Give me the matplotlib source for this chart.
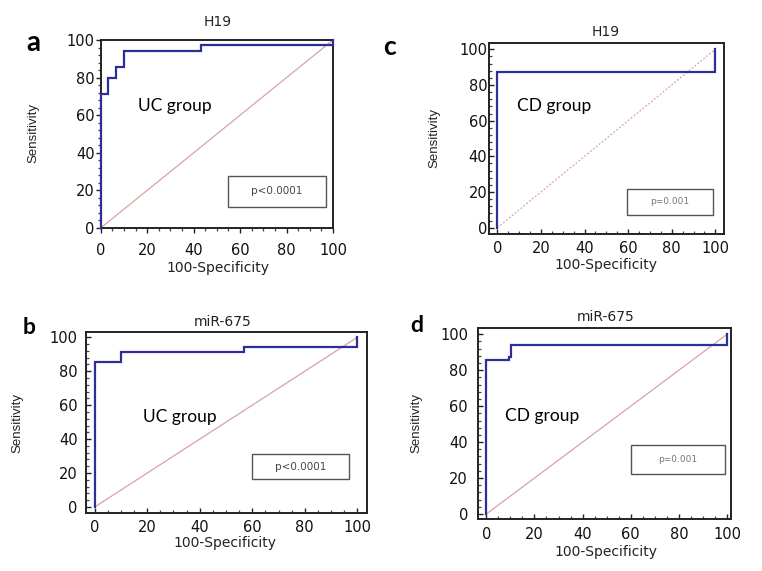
import matplotlib
matplotlib.use("Agg")
import matplotlib.pyplot as plt
from matplotlib.ticker import MultipleLocator
from matplotlib.patches import Rectangle

# ---------------- data (ROC operating points, %) ----------------
fpr_a = [0, 0, 3.3, 6.7, 10, 43.3, 100]
tpr_a = [0, 71.4, 80.0, 85.7, 94.3, 97.1, 100]

fpr_b = [0, 0, 10, 56.7, 100]
tpr_b = [0, 85.7, 91.4, 94.3, 100]

fpr_c = [0, 0, 100]
tpr_c = [0, 87.5, 100]

fpr_d = [0, 0, 9.4, 10.2, 100]
tpr_d = [0, 85.7, 87.1, 94.3, 100]

titles = {"a": "H19", "b": "miR-675", "c": "H19", "d": "miR-675"}
groups = {"a": "UC group", "b": "UC group", "c": "CD group", "d": "CD group"}
pvals = {"a": "p<0.0001", "b": "p<0.0001", "c": "p=0.001", "d": "p=0.001"}
ticks = [0, 20, 40, 60, 80, 100]

W, H = 762, 571
fig = plt.figure(figsize=(W / 100, H / 100), dpi=100)
fig.patch.set_facecolor("white")

SANS = "Liberation Sans"
WIDE = "DejaVu Sans"
CAL = "Lato"
BLUE = "#2c2f98"
PINK = "#d9a3a3"

def fx(x):
    return x / W

def fy(y):
    return 1 - y / H

# layout in pixels: frame (left, right, top, bottom), data anchors (x0px, x100px, y0px, y100px)
layout = {
    "a": dict(frame=(100.7, 333.0, 40.0, 228.0), anchor=(100.7, 333.0, 228.0, 40.0),
              tickdir="out", xpad=7.5, ypad=1.0),
    "c": dict(frame=(489.3, 723.7, 42.7, 234.0), anchor=(497.3, 715.3, 227.7, 49.3),
              tickdir="in", xpad=5.0, ypad=1.5),
    "b": dict(frame=(86.0, 366.7, 331.7, 513.0), anchor=(94.7, 357.3, 507.0, 337.3),
              tickdir="in", xpad=5.0, ypad=6.0),
    "d": dict(frame=(477.7, 731.0, 328.3, 519.3), anchor=(486.3, 727.0, 514.0, 334.3),
              tickdir="in", xpad=5.5, ypad=7.0),
}
data = {"a": (fpr_a, tpr_a), "b": (fpr_b, tpr_b), "c": (fpr_c, tpr_c), "d": (fpr_d, tpr_d)}

# annotation placements (pixels)
panel_lbl = {"a": (33, 43, 20), "c": (389, 47, 19), "b": (29, 327, 16.5), "d": (417, 326, 16.5)}
title_pos = {"a": (218, 22), "c": (606, 32), "b": (223, 322), "d": (606, 317)}
group_pos = {"a": (138, 106), "c": (517, 106), "b": (143, 417), "d": (505, 416)}
pbox = {"a": (228, 326, 176, 207), "c": (627, 713, 189, 215),
        "b": (252, 349, 454, 479), "d": (631, 725, 445, 474)}
ylab_pos = {"a": (33, 133), "c": (434, 138), "b": (17, 423), "d": (416, 423)}
xlab_pos = {"a": (218, 268), "c": (606, 265), "b": (225, 543), "d": (606, 552)}

for key in ["a", "b", "c", "d"]:
    L = layout[key]
    l, r, t, b = L["frame"]
    x0, x100, y0, y100 = L["anchor"]
    ax = fig.add_axes([fx(l), fy(b), (r - l) / W, (b - t) / H])
    sx = (x100 - x0) / 100.0
    sy = (y0 - y100) / 100.0
    ax.set_xlim(-(x0 - l) / sx, 100 + (r - x100) / sx)
    ax.set_ylim(-(b - y0) / sy, 100 + (y100 - t) / sy)

    fpr, tpr = data[key]
    ls = (0, (1.5, 1.5)) if key == "c" else "-"
    ax.plot([0, 100], [0, 100], color=PINK, lw=0.9, ls=ls, zorder=2)
    ax.plot(fpr, tpr, drawstyle="steps-post", color=BLUE, lw=1.6, zorder=3,
            solid_joinstyle="miter", clip_on=False)

    ax.set_xticks(ticks)
    ax.set_yticks(ticks)
    ax.xaxis.set_minor_locator(MultipleLocator(5))
    ax.yaxis.set_minor_locator(MultipleLocator(4))
    ax.tick_params(which="major", direction=L["tickdir"], length=3.5, width=1.0,
                   labelsize=10.5, colors="#222222")
    ax.tick_params(which="minor", direction=L["tickdir"], length=2.2, width=0.9, colors="#444444")
    ax.tick_params(axis="x", which="major", pad=L["xpad"])
    ax.tick_params(axis="y", which="major", pad=L["ypad"])
    for lab in ax.get_xticklabels() + ax.get_yticklabels():
        lab.set_fontfamily(WIDE)
        lab.set_color("#111111")
    for sp in ax.spines.values():
        sp.set_linewidth(1.4)
        sp.set_color("#222222")

    # texts
    lx, ly, ls_ = panel_lbl[key]
    fig.text(fx(lx), fy(ly), key, family=CAL, weight="bold", fontsize=ls_,
             ha="center", va="center", color="black")
    tx, ty = title_pos[key]
    fig.text(fx(tx), fy(ty), titles[key], family=WIDE, fontsize=10, ha="center", va="center",
             color="#222222")
    gx, gy = group_pos[key]
    fig.text(fx(gx), fy(gy), groups[key], family=CAL, fontsize=12.5, ha="left", va="center",
             color="black")
    bl, br, bt, bb = pbox[key]
    fig.patches.append(Rectangle((fx(bl), fy(bb)), (br - bl) / W, (bb - bt) / H,
                                 transform=fig.transFigure, fill=True, facecolor="white",
                                 edgecolor="#555555", lw=1.0, zorder=5))
    strong = pvals[key].startswith("p<")
    pcol = "#444444" if strong else "#777777"
    psz = 7.5 if strong else 6.5
    fig.text(fx((bl + br) / 2), fy((bt + bb) / 2), pvals[key], family=WIDE, fontsize=psz,
             ha="center", va="center", color=pcol, zorder=6)
    yx, yy = ylab_pos[key]
    fig.text(fx(yx), fy(yy), "Sensitivity", family=SANS, fontsize=9.5, rotation=90,
             ha="center", va="center", color="#222222")
    xx, xy = xlab_pos[key]
    fig.text(fx(xx), fy(xy), "100-Specificity", family=WIDE, fontsize=10,
             ha="center", va="center", color="#222222")

fig.savefig("out.png", dpi=100, facecolor="white")
